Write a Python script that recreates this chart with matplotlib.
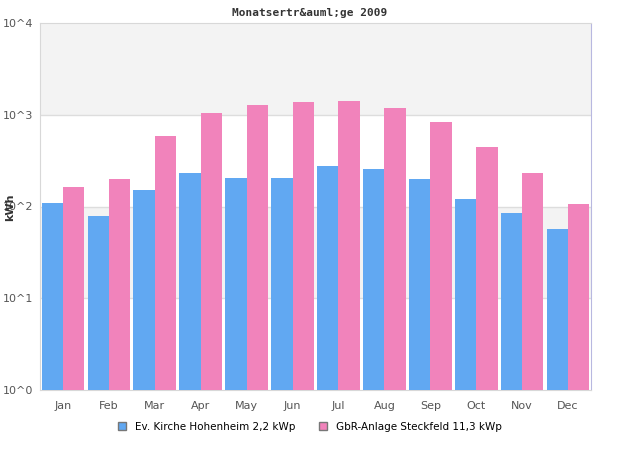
import numpy as np
import matplotlib
matplotlib.use("Agg")
import matplotlib.pyplot as plt
from matplotlib.patches import Patch

months = ['Jan', 'Feb', 'Mar', 'Apr', 'May', 'Jun', 'Jul', 'Aug', 'Sep', 'Oct', 'Nov', 'Dec']
kirche = [109, 79, 151, 232, 205, 205, 276, 256, 199, 121, 85, 57]
steckfeld = [163, 199, 587, 1045, 1277, 1377, 1413, 1185, 834, 445, 232, 106]
series_names = ['Ev. Kirche Hohenheim 2,2 kWp', 'GbR-Anlage Steckfeld 11,3 kWp']
ytick_vals = [1, 10, 100, 1000, 10000]
ytick_labels = ['10^0', '10^1', '10^2', '10^3', '10^4']

col_blue = '#61a8f2'
col_pink = '#f183bb'

fig = plt.figure(figsize=(6.2, 4.5), dpi=100)
ax = fig.add_axes([40/620, 60/450, 551/620, 367/450])

x = np.arange(len(months))
w = 0.465
ax.bar(x - w/2, kirche, width=w, color=col_blue, zorder=3)
ax.bar(x + w/2, steckfeld, width=w, color=col_pink, zorder=3)

ax.set_yscale('log')
ax.set_ylim(1, 10000)
ax.set_xlim(-0.5, len(months) - 0.5)

# alternating bands
for lo, hi in [(10, 100), (1000, 10000)]:
    ax.axhspan(lo, hi, color='#f3f3f3', zorder=0, lw=0)
for v in ytick_vals[1:-1]:
    ax.axhline(v, color='#dddddd', lw=1, zorder=1)

ax.set_yticks(ytick_vals, ytick_labels)
ax.yaxis.set_minor_locator(matplotlib.ticker.NullLocator())
ax.set_xticks(x, months)
ax.tick_params(axis='both', length=0, labelsize=8, colors='#555555')
ax.tick_params(axis='x', pad=8)
ax.tick_params(axis='y', pad=27)
for lab in ax.get_yticklabels():
    lab.set_horizontalalignment('left')

for s in ['left', 'bottom', 'top']:
    ax.spines[s].set_color('#d8d8d8')
ax.spines['right'].set_color('#b8b8e0')

fig.text(10/620, 1 - 207/450, 'kWh', rotation=90, ha='center', va='center',
         fontsize=8, fontweight='bold', color='#333333')
fig.text(310/620, 1 - 13/450, 'Monatsertr&auml;ge 2009', ha='center', va='center',
         fontsize=8, fontweight='bold', family='DejaVu Sans Mono', color='#333333')

handles = [Patch(facecolor=col_blue, edgecolor='#777777'),
           Patch(facecolor=col_pink, edgecolor='#777777')]
fig.legend(handles, series_names, loc='center', bbox_to_anchor=(310/620, 1 - 427/450),
           ncol=2, frameon=False, fontsize=7.5, handlelength=0.8, handleheight=0.8,
           columnspacing=2.2, handletextpad=0.9)

plt.savefig('out.png', dpi=100)
